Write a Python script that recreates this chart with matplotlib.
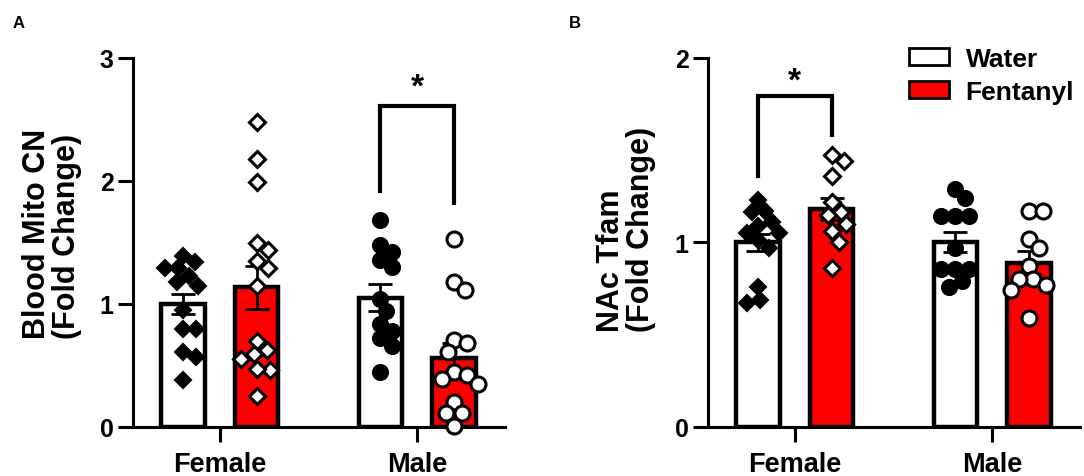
import numpy as np
import matplotlib
matplotlib.use("Agg")
import matplotlib.pyplot as plt
from matplotlib.patches import Patch

plt.rcParams['font.family'] = ['Liberation Sans', 'DejaVu Sans']
plt.rcParams['font.weight'] = 'bold'

# ---------------- data ----------------
groups = ["Female", "Male"]
treatments = ["Water", "Fentanyl"]
group_markers = ["D", "o"]   # female: diamonds, male: circles

# Panel A: Blood Mito CN (fold change)
A_female_water = [1.39, 1.34, 1.29, 1.29, 1.23, 1.18, 1.15, 0.95, 0.80, 0.80, 0.61, 0.57, 0.38]
A_female_fent = [2.48, 2.18, 1.99, 1.50, 1.44, 1.35, 1.29, 1.15, 0.70, 0.63, 0.59, 0.55, 0.46, 0.47, 0.25]
A_male_water = [1.68, 1.48, 1.42, 1.36, 1.30, 1.04, 0.94, 0.84, 0.78, 0.72, 0.66, 0.45]
A_male_fent = [1.53, 1.18, 1.11, 0.71, 0.68, 0.61, 0.45, 0.42, 0.39, 0.35, 0.20, 0.11, 0.11, 0.01]
A_mean_water = [1.00, 1.05]
A_mean_fent = [1.135, 0.56]
A_sem_water = [0.085, 0.11]
A_sem_fent = [0.175, 0.12]
A_yticks = [0, 1, 2, 3]
A_sig = (1, 1.92, 2.61, 1.82, 2.64)   # group, left end, top, right end, star

# Panel B: NAc Tfam (fold change)
B_female_water = [1.23, 1.17, 1.165, 1.11, 1.09, 1.05, 1.05, 1.01, 0.97, 0.76, 0.69, 0.67]
B_female_fent = [1.47, 1.44, 1.36, 1.22, 1.165, 1.15, 1.10, 1.06, 1.00, 0.86]
B_male_water = [1.29, 1.24, 1.14, 1.14, 1.14, 0.97, 0.855, 0.855, 0.855, 0.79, 0.76]
B_male_fent = [1.17, 1.17, 1.02, 0.97, 0.87, 0.80, 0.80, 0.77, 0.74, 0.59]
B_mean_water = [1.00, 1.00]
B_mean_fent = [1.18, 0.89]
B_sem_water = [0.045, 0.055]
B_sem_fent = [0.06, 0.06]
B_yticks = [0, 1, 2]
B_sig = (0, 1.36, 1.79, 1.58, 1.79)

W, H = 1084, 477
fig = plt.figure(figsize=(W / 100, H / 100), dpi=100)

RED = "#FF0000"
OFF = 0.187
BW = 0.22


def swarm_x(ax, vals, center, d, step=1.0):
    vals = np.asarray(vals, dtype=float)
    tr = ax.transData
    pts = tr.transform(np.column_stack([np.full(len(vals), center), vals]))
    cx = pts[0, 0]
    ys = pts[:, 1]
    placed = []
    xs = np.zeros(len(vals))
    order = np.argsort(-vals, kind="stable")
    for i in order:
        best = None
        k = 0
        while best is None:
            cands = [0.0] if k == 0 else [k * step, -k * step]
            for off in cands:
                if all((off - px) ** 2 + (ys[i] - py) ** 2 >= d * d for px, py in placed):
                    best = off
                    break
            k += 1
        placed.append((best, ys[i]))
        xs[i] = cx + best
    inv = tr.inverted()
    return inv.transform(np.column_stack([xs, ys]))[:, 0]


def panel(rect, data, means_w, means_f, sems_w, sems_f, yticks, ylim, sig):
    ax = fig.add_axes(rect)
    ax.set_xlim(-0.44, 1.445)
    ax.set_ylim(*ylim)
    x = np.arange(len(groups))
    ax.bar(x - OFF, means_w, BW, color="white", edgecolor="black", linewidth=3.2, zorder=2)
    ax.bar(x + OFF, means_f, BW, color=RED, edgecolor="black", linewidth=3.2, zorder=2)
    ax.errorbar(x - OFF, means_w, yerr=sems_w, fmt="none", ecolor="black",
                elinewidth=2.0, capsize=8.5, capthick=2.0, zorder=3)
    ax.errorbar(x + OFF, means_f, yerr=sems_f, fmt="none", ecolor="black",
                elinewidth=2.0, capsize=8.5, capthick=2.0, zorder=3)
    for gi, (vw, vf) in enumerate(data):
        marker = group_markers[gi]
        ms = 8.4 if marker == "D" else 10.8
        dpx = 13.0 if marker == "D" else 13.5
        xw = swarm_x(ax, vw, gi - OFF, dpx)
        xf = swarm_x(ax, vf, gi + OFF, dpx)
        ax.plot(xw, vw, linestyle="none", marker=marker, markersize=ms,
                markerfacecolor="black", markeredgecolor="black", markeredgewidth=1.5,
                zorder=4, clip_on=False)
        ax.plot(xf, vf, linestyle="none", marker=marker, markersize=ms,
                markerfacecolor="white", markeredgecolor="black", markeredgewidth=2.2,
                zorder=4, clip_on=False)
    # significance bracket
    g, yl, yt, yr, ys = sig
    ax.plot([g - OFF, g - OFF, g + OFF, g + OFF], [yl, yt, yt, yr], color="black",
            linewidth=3.0, solid_joinstyle="miter", zorder=5, clip_on=False)
    ax.text(g, ys, "*", ha="center", va="bottom", fontsize=24, fontweight="bold")

    ax.set_xticks(x)
    ax.set_xticklabels(groups)
    ax.set_yticks(yticks)
    for s in ("top", "right"):
        ax.spines[s].set_visible(False)
    for s in ("left", "bottom"):
        ax.spines[s].set_linewidth(2.2)
    ax.tick_params(axis="y", length=11, width=2.2, labelsize=18, pad=3)
    ax.tick_params(axis="x", length=11, width=2.2, labelsize=19.5, pad=6.5)
    return ax


axA = panel([133 / W, (H - 428) / H, 372 / W, 369 / H],
            [(A_female_water, A_female_fent), (A_male_water, A_male_fent)],
            A_mean_water, A_mean_fent, A_sem_water, A_sem_fent,
            A_yticks, (0, 3), A_sig)
axB = panel([708 / W, (H - 428) / H, 372 / W, 369.5 / H],
            [(B_female_water, B_female_fent), (B_male_water, B_male_fent)],
            B_mean_water, B_mean_fent, B_sem_water, B_sem_fent,
            B_yticks, (0, 2), B_sig)

# y labels
fig.text(52 / W, 1 - 234 / H, "Blood Mito CN\n(Fold Change)", rotation=90,
         ha="center", va="center", multialignment="left", fontsize=22,
         fontweight="bold", linespacing=1.0)
fig.text(626 / W, 1 - 229 / H, "NAc Tfam\n(Fold Change)", rotation=90,
         ha="center", va="center", multialignment="left", fontsize=22,
         fontweight="bold", linespacing=1.0)

# panel letters
fig.text(13 / W, 1 - 23 / H, "A", fontsize=12, fontweight="bold", va="center")
fig.text(569 / W, 1 - 23 / H, "B", fontsize=12, fontweight="bold", va="center")

# legend
handles = [Patch(facecolor="white", edgecolor="black", linewidth=2.0),
           Patch(facecolor=RED, edgecolor="black", linewidth=2.0)]
fig.legend(handles, treatments, loc="upper left",
           bbox_to_anchor=(909 / W, 1 - 48 / H), frameon=False,
           handlelength=1.5, handleheight=0.62,
           handletextpad=0.65, labelspacing=0.34, borderpad=0, borderaxespad=0,
           prop={"weight": "bold", "size": 19})

fig.savefig("out.png", dpi=100)
